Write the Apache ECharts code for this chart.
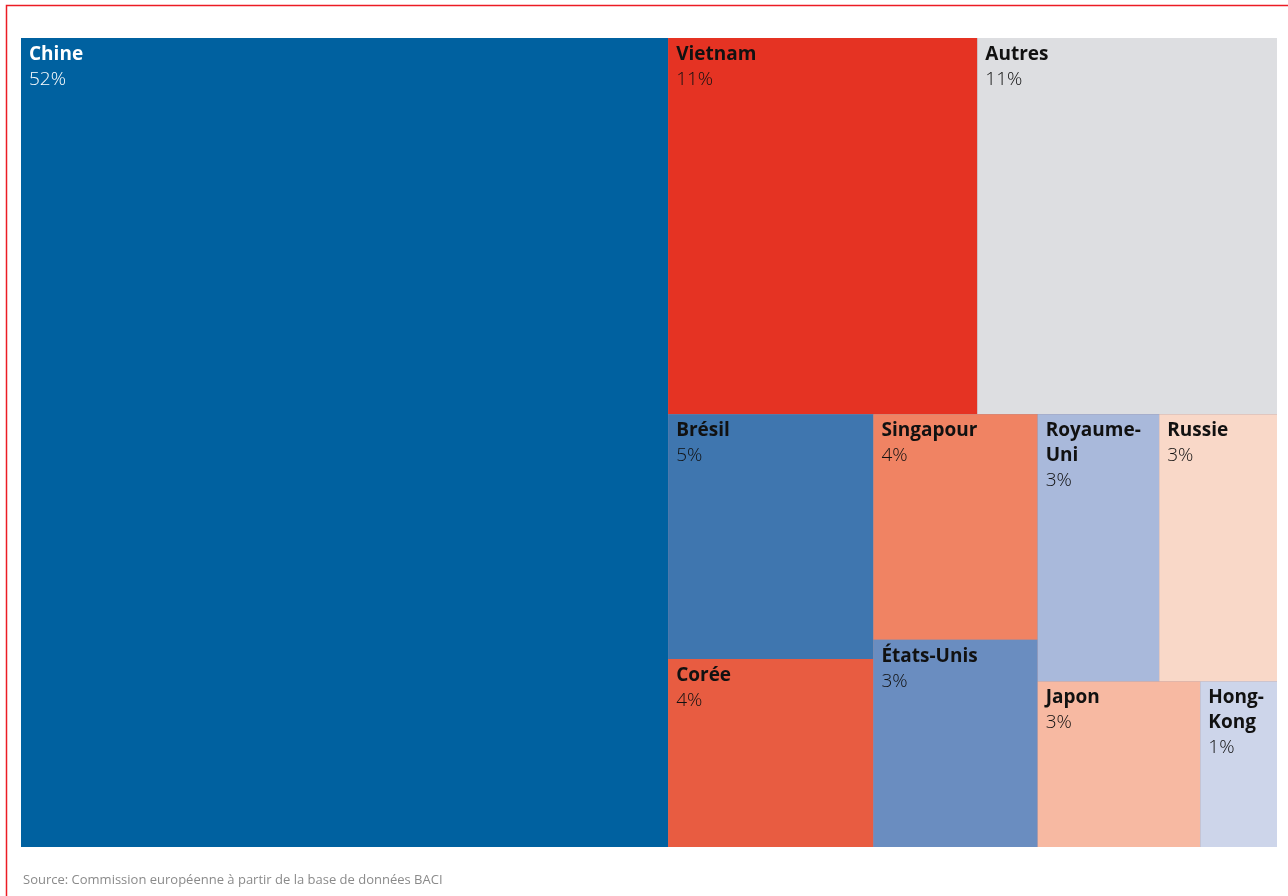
<!DOCTYPE html>
<html>
<head>
<meta charset="utf-8">
<script src="https://cdn.jsdelivr.net/npm/echarts@6/dist/echarts.min.js"></script>
<style>
  html, body { margin: 0; padding: 0; background: #ffffff; }
  #chart { width: 1288px; height: 896px; }
</style>
</head>
<body>
<div id="chart"></div>
<script>
// ---- Data (shares of total, %) ----
const countries = ['Chine', 'Vietnam', 'Autres', 'Brésil', 'Corée', 'Singapour', 'États-Unis', 'Royaume-Uni', 'Russie', 'Japon', 'Hong-Kong'];
const shares    = [51.55, 11.45, 11.1, 4.95, 3.8, 3.65, 3.35, 3.2, 3.1, 2.65, 1.25];
// grouping of the cells (indices into countries)
const hierarchy = [0, [[1, 2], [[3, 4], [[5, 6], [[7, 8], [9, 10]]]]]];
const wrappedNames = ['Royaume-Uni', 'Hong-Kong'];
const sourceText = 'Source: Commission européenne à partir de la base de données BACI';

// ---- Styles ----
const cellColors = ['#0061A0', '#E53323', '#DDDEE1', '#3F76AF', '#E85C41', '#F08363', '#6A8DC0', '#A9B9DB', '#F9D8C8', '#F7B9A2', '#CDD5EA'];
const pctColors  = ['#ffffff', '#111111', '#111111', '#111111', '#111111', '#111111', '#111111', '#111111', '#111111', '#111111', '#111111'];
const nameColors = ['#ffffff', '#111111', '#111111', '#111111', '#111111', '#111111', '#111111', '#111111', '#111111', '#111111', '#111111'];
const seamColor = '#9a8f9e';

function build(node, key) {
  if (typeof node === 'number') {
    const i = node;
    const nm = wrappedNames.includes(countries[i]) ? countries[i].replace('-', '-\n') : countries[i];
    return {
      name: countries[i],
      value: shares[i],
      itemStyle: { color: cellColors[i], borderWidth: 0 },
      label: {
        formatter: '{n|' + nm + '}\n{p|' + Math.round(shares[i]) + '%}',
        rich: {
          n: { fontFamily: 'Open Sans', fontWeight: 'bold', fontSize: 19, lineHeight: 25, color: nameColors[i] },
          p: { fontFamily: 'Open Sans', fontWeight: 300, fontSize: 19, lineHeight: 25, color: pctColors[i] }
        }
      }
    };
  }
  const children = node.map((c, j) => build(c, key + '_' + j));
  const total = children.reduce((s, c) => s + c.value, 0);
  return { name: 'g' + key, value: total, children: children, itemStyle: { borderColor: seamColor, color: seamColor } };
}

const data = hierarchy.map((c, j) => build(c, String(j)));

const chart = echarts.init(document.getElementById('chart'), null, { renderer: 'canvas' });
chart.setOption({
  animation: false,
  backgroundColor: '#ffffff',
  graphic: [
    { type: 'rect', shape: { x: 6.5, y: 5.5, width: 1400, height: 1000 }, style: { fill: 'none', stroke: '#EC1C24', lineWidth: 1.5 }, silent: true },
    { type: 'text', left: 23, top: 874, style: { text: sourceText, fill: '#8a8a8a', font: '13px "Open Sans"' }, silent: true }
  ],
  series: [{
    type: 'treemap',
    left: 21, top: 38, width: 1256, height: 809,
    roam: false,
    nodeClick: false,
    silent: true,
    sort: false,
    squareRatio: 1.2,
    breadcrumb: { show: false },
    emphasis: { disabled: true },
    itemStyle: { borderWidth: 0, gapWidth: 0, borderColor: seamColor },
    levels: [
      { itemStyle: { borderWidth: 0, gapWidth: 0, borderColor: seamColor } },
      { itemStyle: { borderWidth: 0, gapWidth: 0, borderColor: seamColor } },
      { itemStyle: { borderWidth: 0, gapWidth: 0, borderColor: seamColor } },
      { itemStyle: { borderWidth: 0, gapWidth: 0, borderColor: seamColor } },
      { itemStyle: { borderWidth: 0, gapWidth: 0, borderColor: seamColor } },
      { itemStyle: { borderWidth: 0, gapWidth: 0, borderColor: seamColor } },
      { itemStyle: { borderWidth: 0, gapWidth: 0, borderColor: seamColor } }
    ],
    label: { show: true, position: [8, 4], padding: 0, overflow: 'none' },
    upperLabel: { show: false },
    data: data
  }]
});
</script>
</body>
</html>
